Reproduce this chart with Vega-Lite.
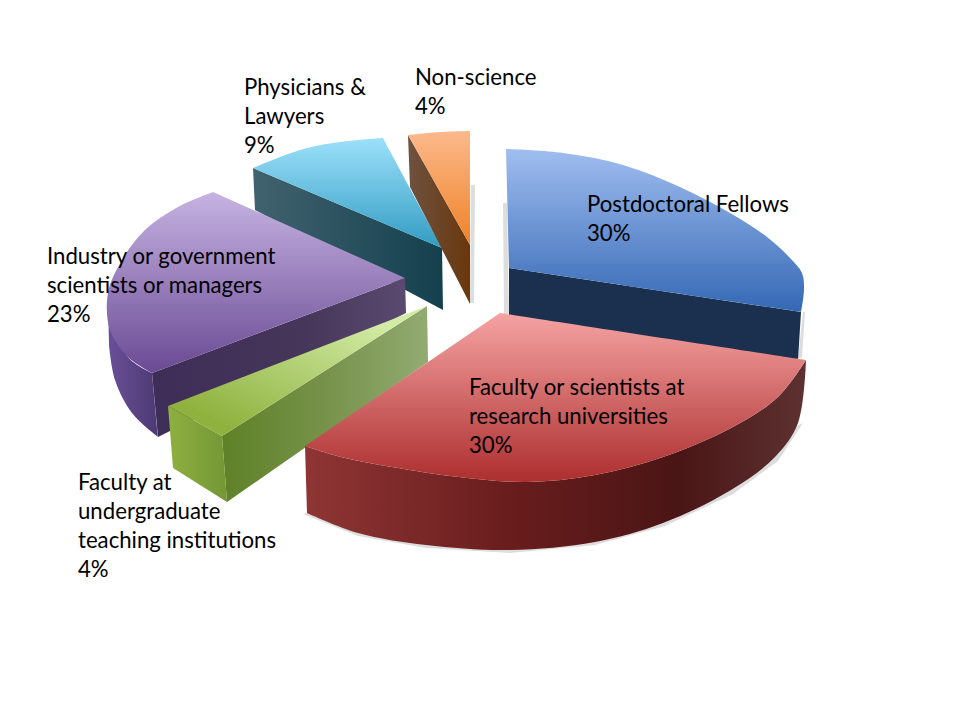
{"$schema":"https://vega.github.io/schema/vega-lite/v6.json","width":960,"height":720,"padding":0,"autosize":{"type":"fit","contains":"padding"},"background":"white","view":{"stroke":null},
"datasets":{"faces":[
{"f":"shadow","p":"a","i":0,"x":503,"y":203},{"f":"shadow","p":"a","i":1,"x":507,"y":203},{"f":"shadow","p":"a","i":2,"x":509,"y":314},{"f":"shadow","p":"a","i":3,"x":504,"y":314},
{"f":"shadow","p":"b","i":0,"x":471,"y":185},{"f":"shadow","p":"b","i":1,"x":475,"y":185},{"f":"shadow","p":"b","i":2,"x":474,"y":303},{"f":"shadow","p":"b","i":3,"x":470,"y":303},
{"f":"shadow","p":"c","i":0,"x":803,"y":312},{"f":"shadow","p":"c","i":1,"x":805,"y":312},{"f":"shadow","p":"c","i":2,"x":802,"y":358},{"f":"shadow","p":"c","i":3,"x":798,"y":358},
{"f":"shadow","p":"d","i":0,"x":803,"y":423},{"f":"shadow","p":"d","i":1,"x":778,"y":461},{"f":"shadow","p":"d","i":2,"x":733,"y":494},{"f":"shadow","p":"d","i":3,"x":665,"y":526},{"f":"shadow","p":"d","i":4,"x":595,"y":545},{"f":"shadow","p":"d","i":5,"x":510,"y":553},{"f":"shadow","p":"d","i":6,"x":426,"y":548},{"f":"shadow","p":"d","i":7,"x":358,"y":536},{"f":"shadow","p":"d","i":8,"x":303,"y":514},{"f":"shadow","p":"d","i":9,"x":358,"y":500},{"f":"shadow","p":"d","i":10,"x":700,"y":470},
{"f":"blueSide","p":"a","i":0,"x":509,"y":268},{"f":"blueSide","p":"a","i":1,"x":801,"y":312},{"f":"blueSide","p":"a","i":2,"x":798,"y":360},{"f":"blueSide","p":"a","i":3,"x":509,"y":320},
{"f":"blueTop","p":"a","i":0,"x":506,"y":149},{"f":"blueTop","p":"a","i":1,"x":563,"y":153},{"f":"blueTop","p":"a","i":2,"x":623,"y":165},{"f":"blueTop","p":"a","i":3,"x":680,"y":187},{"f":"blueTop","p":"a","i":4,"x":730,"y":213},{"f":"blueTop","p":"a","i":5,"x":767,"y":237},{"f":"blueTop","p":"a","i":6,"x":790,"y":258},{"f":"blueTop","p":"a","i":7,"x":802,"y":273},{"f":"blueTop","p":"a","i":8,"x":804,"y":290},{"f":"blueTop","p":"a","i":9,"x":801,"y":312},{"f":"blueTop","p":"a","i":9.5,"x":801,"y":312},{"f":"blueTop","p":"a","i":10,"x":509,"y":268},
{"f":"tealSide","p":"a","i":0,"x":253,"y":168},{"f":"tealSide","p":"a","i":1,"x":442,"y":248},{"f":"tealSide","p":"a","i":2,"x":443,"y":310},{"f":"tealSide","p":"a","i":3,"x":255,"y":210},
{"f":"tealTop","p":"a","i":0,"x":253,"y":168},{"f":"tealTop","p":"a","i":1,"x":280,"y":157},{"f":"tealTop","p":"a","i":2,"x":307,"y":148},{"f":"tealTop","p":"a","i":3,"x":340,"y":142},{"f":"tealTop","p":"a","i":4,"x":383,"y":138},{"f":"tealTop","p":"a","i":4.5,"x":383,"y":138},{"f":"tealTop","p":"a","i":5,"x":442,"y":248},
{"f":"orangeSide","p":"a","i":0,"x":408,"y":135},{"f":"orangeSide","p":"a","i":1,"x":470,"y":245},{"f":"orangeSide","p":"a","i":2,"x":470,"y":304},{"f":"orangeSide","p":"a","i":3,"x":410,"y":187},
{"f":"orangeTop","p":"a","i":0,"x":408,"y":135},{"f":"orangeTop","p":"a","i":1,"x":440,"y":132},{"f":"orangeTop","p":"a","i":2,"x":470,"y":131},{"f":"orangeTop","p":"a","i":2.5,"x":470,"y":131},{"f":"orangeTop","p":"a","i":3,"x":470,"y":245},
{"f":"purpleOuter","p":"a","i":0,"x":108,"y":300},{"f":"purpleOuter","p":"a","i":1,"x":128,"y":357},{"f":"purpleOuter","p":"a","i":2,"x":152,"y":373},{"f":"purpleOuter","p":"a","i":2.5,"x":152,"y":373},{"f":"purpleOuter","p":"a","i":3,"x":158,"y":437},{"f":"purpleOuter","p":"a","i":3.5,"x":158,"y":437},{"f":"purpleOuter","p":"a","i":4,"x":132,"y":413},{"f":"purpleOuter","p":"a","i":5,"x":115,"y":380},{"f":"purpleOuter","p":"a","i":6,"x":109,"y":345},
{"f":"purpleFront","p":"a","i":0,"x":152,"y":373},{"f":"purpleFront","p":"a","i":1,"x":405,"y":278},{"f":"purpleFront","p":"a","i":2,"x":406,"y":313},{"f":"purpleFront","p":"a","i":3,"x":158,"y":437},
{"f":"purpleTop","p":"a","i":0,"x":213,"y":192},{"f":"purpleTop","p":"a","i":1,"x":178,"y":207},{"f":"purpleTop","p":"a","i":2,"x":145,"y":230},{"f":"purpleTop","p":"a","i":3,"x":122,"y":260},{"f":"purpleTop","p":"a","i":4,"x":108,"y":293},{"f":"purpleTop","p":"a","i":5,"x":110,"y":330},{"f":"purpleTop","p":"a","i":6,"x":128,"y":357},{"f":"purpleTop","p":"a","i":7,"x":152,"y":373},{"f":"purpleTop","p":"a","i":7.5,"x":152,"y":373},{"f":"purpleTop","p":"a","i":8,"x":405,"y":278},
{"f":"greenFront","p":"a","i":0,"x":222,"y":436},{"f":"greenFront","p":"a","i":1,"x":427,"y":306},{"f":"greenFront","p":"a","i":2,"x":428,"y":362},{"f":"greenFront","p":"a","i":3,"x":227,"y":502},
{"f":"greenLeft","p":"a","i":0,"x":168,"y":406},{"f":"greenLeft","p":"a","i":1,"x":222,"y":436},{"f":"greenLeft","p":"a","i":2,"x":227,"y":502},{"f":"greenLeft","p":"a","i":3,"x":173,"y":468},
{"f":"greenTop","p":"a","i":0,"x":168,"y":406},{"f":"greenTop","p":"a","i":1,"x":427,"y":306},{"f":"greenTop","p":"a","i":2,"x":222,"y":436},
{"f":"redSide","p":"a","i":0,"x":305,"y":446},{"f":"redSide","p":"a","i":1,"x":341,"y":457},{"f":"redSide","p":"a","i":2,"x":392,"y":467},{"f":"redSide","p":"a","i":3,"x":459,"y":477},{"f":"redSide","p":"a","i":4,"x":527,"y":482},{"f":"redSide","p":"a","i":5,"x":595,"y":475},{"f":"redSide","p":"a","i":6,"x":663,"y":457},{"f":"redSide","p":"a","i":7,"x":731,"y":428},{"f":"redSide","p":"a","i":8,"x":778,"y":397},{"f":"redSide","p":"a","i":9,"x":806,"y":360},{"f":"redSide","p":"a","i":9.5,"x":806,"y":360},{"f":"redSide","p":"a","i":10,"x":798,"y":423},{"f":"redSide","p":"a","i":11,"x":775,"y":457},{"f":"redSide","p":"a","i":12,"x":731,"y":490},{"f":"redSide","p":"a","i":13,"x":663,"y":523},{"f":"redSide","p":"a","i":14,"x":595,"y":542},{"f":"redSide","p":"a","i":15,"x":510,"y":550},{"f":"redSide","p":"a","i":16,"x":426,"y":545},{"f":"redSide","p":"a","i":17,"x":358,"y":533},{"f":"redSide","p":"a","i":18,"x":307,"y":513},
{"f":"redTop","p":"a","i":0,"x":500,"y":313},{"f":"redTop","p":"a","i":1,"x":806,"y":360},{"f":"redTop","p":"a","i":1.5,"x":806,"y":360},{"f":"redTop","p":"a","i":2,"x":778,"y":397},{"f":"redTop","p":"a","i":3,"x":731,"y":428},{"f":"redTop","p":"a","i":4,"x":663,"y":457},{"f":"redTop","p":"a","i":5,"x":595,"y":475},{"f":"redTop","p":"a","i":6,"x":527,"y":482},{"f":"redTop","p":"a","i":7,"x":459,"y":477},{"f":"redTop","p":"a","i":8,"x":392,"y":467},{"f":"redTop","p":"a","i":9,"x":341,"y":457},{"f":"redTop","p":"a","i":10,"x":305,"y":446}
],
"labels":[
{"label":"Postdoctoral Fellows\n30%","x":587,"y":212},
{"label":"Faculty or scientists at\nresearch universities\n30%","x":469,"y":395},
{"label":"Faculty at\nundergraduate\nteaching institutions\n4%","x":78,"y":490},
{"label":"Industry or government\nscientists or managers\n23%","x":47,"y":264},
{"label":"Physicians &\nLawyers\n9%","x":244,"y":95},
{"label":"Non-science\n4%","x":415,"y":85}
]},
"encoding":{
"x":{"field":"x","type":"quantitative","scale":{"domain":[0,960]},"axis":null},
"y":{"field":"y","type":"quantitative","scale":{"domain":[720,0]},"axis":null}},
"layer":[
{"data":{"name":"faces"},"transform":[{"filter":"datum.f=='shadow'"}],"mark":{"type":"line","fill":"#d4d4d4","fillOpacity":0.8,"strokeWidth":0},"encoding":{"order":{"field":"i"},"detail":{"field":"p"}}},
{"data":{"name":"faces"},"transform":[{"filter":"datum.f=='blueSide'"}],"mark":{"type":"line","fill":"#1b2f4f","strokeWidth":0},"encoding":{"order":{"field":"i"}}},
{"data":{"name":"faces"},"transform":[{"filter":"datum.f=='blueTop'"}],"mark":{"type":"line","interpolate":"catmull-rom","strokeWidth":0,"fill":{"gradient":"linear","x1":0,"y1":0,"x2":0,"y2":1,"stops":[{"offset":0,"color":"#a0bdf0"},{"offset":1,"color":"#3468b4"}]}},"encoding":{"order":{"field":"i"}}},
{"data":{"name":"faces"},"transform":[{"filter":"datum.f=='tealSide'"}],"mark":{"type":"line","strokeWidth":0,"fill":{"gradient":"linear","x1":0,"y1":0,"x2":1,"y2":0,"stops":[{"offset":0,"color":"#41626e"},{"offset":1,"color":"#14404e"}]}},"encoding":{"order":{"field":"i"}}},
{"data":{"name":"faces"},"transform":[{"filter":"datum.f=='tealTop'"}],"mark":{"type":"line","interpolate":"catmull-rom","strokeWidth":0,"fill":{"gradient":"linear","x1":0,"y1":0,"x2":0,"y2":1,"stops":[{"offset":0,"color":"#9ce0fa"},{"offset":1,"color":"#319cc2"}]}},"encoding":{"order":{"field":"i"}}},
{"data":{"name":"faces"},"transform":[{"filter":"datum.f=='orangeSide'"}],"mark":{"type":"line","strokeWidth":0,"fill":{"gradient":"linear","x1":0,"y1":0,"x2":1,"y2":0,"stops":[{"offset":0,"color":"#6e5240"},{"offset":1,"color":"#6a370c"}]}},"encoding":{"order":{"field":"i"}}},
{"data":{"name":"faces"},"transform":[{"filter":"datum.f=='orangeTop'"}],"mark":{"type":"line","interpolate":"catmull-rom","strokeWidth":0,"fill":{"gradient":"linear","x1":0,"y1":0,"x2":0,"y2":1,"stops":[{"offset":0,"color":"#fcb98c"},{"offset":1,"color":"#ef8227"}]}},"encoding":{"order":{"field":"i"}}},
{"data":{"name":"faces"},"transform":[{"filter":"datum.f=='purpleOuter'"}],"mark":{"type":"line","interpolate":"catmull-rom","strokeWidth":0,"fill":{"gradient":"linear","x1":0,"y1":0,"x2":1,"y2":0,"stops":[{"offset":0,"color":"#6a4f98"},{"offset":1,"color":"#4c3a72"}]}},"encoding":{"order":{"field":"i"}}},
{"data":{"name":"faces"},"transform":[{"filter":"datum.f=='purpleFront'"}],"mark":{"type":"line","strokeWidth":0,"fill":{"gradient":"linear","x1":0,"y1":0,"x2":1,"y2":0,"stops":[{"offset":0,"color":"#3e2d58"},{"offset":0.6,"color":"#463659"},{"offset":1,"color":"#5a4a70"}]}},"encoding":{"order":{"field":"i"}}},
{"data":{"name":"faces"},"transform":[{"filter":"datum.f=='purpleTop'"}],"mark":{"type":"line","interpolate":"catmull-rom","strokeWidth":0,"fill":{"gradient":"linear","x1":0,"y1":0,"x2":0,"y2":1,"stops":[{"offset":0,"color":"#c6b3e2"},{"offset":1,"color":"#6a4a94"}]}},"encoding":{"order":{"field":"i"}}},
{"data":{"name":"faces"},"transform":[{"filter":"datum.f=='greenFront'"}],"mark":{"type":"line","strokeWidth":0,"fill":{"gradient":"linear","x1":0,"y1":0,"x2":1,"y2":0,"stops":[{"offset":0,"color":"#5f8127"},{"offset":0.5,"color":"#76924a"},{"offset":1,"color":"#92ab72"}]}},"encoding":{"order":{"field":"i"}}},
{"data":{"name":"faces"},"transform":[{"filter":"datum.f=='greenLeft'"}],"mark":{"type":"line","strokeWidth":0,"fill":{"gradient":"linear","x1":0,"y1":0,"x2":1,"y2":0,"stops":[{"offset":0,"color":"#8eb040"},{"offset":1,"color":"#749635"}]}},"encoding":{"order":{"field":"i"}}},
{"data":{"name":"faces"},"transform":[{"filter":"datum.f=='greenTop'"}],"mark":{"type":"line","strokeWidth":0,"fill":{"gradient":"linear","x1":0,"y1":1,"x2":1,"y2":0,"stops":[{"offset":0.15,"color":"#8fb23f"},{"offset":0.85,"color":"#d2eca6"}]}},"encoding":{"order":{"field":"i"}}},
{"data":{"name":"faces"},"transform":[{"filter":"datum.f=='redSide'"}],"mark":{"type":"line","interpolate":"catmull-rom","strokeWidth":0,"fill":{"gradient":"linear","x1":0,"y1":0,"x2":1,"y2":0,"stops":[{"offset":0,"color":"#8f3535"},{"offset":0.4,"color":"#6a1d1d"},{"offset":0.75,"color":"#4a1515"},{"offset":1,"color":"#5e3232"}]}},"encoding":{"order":{"field":"i"}}},
{"data":{"name":"faces"},"transform":[{"filter":"datum.f=='redTop'"}],"mark":{"type":"line","interpolate":"catmull-rom","strokeWidth":0,"fill":{"gradient":"linear","x1":0,"y1":0,"x2":0,"y2":1,"stops":[{"offset":0,"color":"#f5a3a3"},{"offset":1,"color":"#ad2e2e"}]}},"encoding":{"order":{"field":"i"}}},
{"data":{"name":"labels"},"mark":{"type":"text","align":"left","baseline":"alphabetic","font":"Lato","fontSize":22.2,"lineHeight":29,"lineBreak":"\n","color":"#000000"},"encoding":{"text":{"field":"label"}}}
]}
